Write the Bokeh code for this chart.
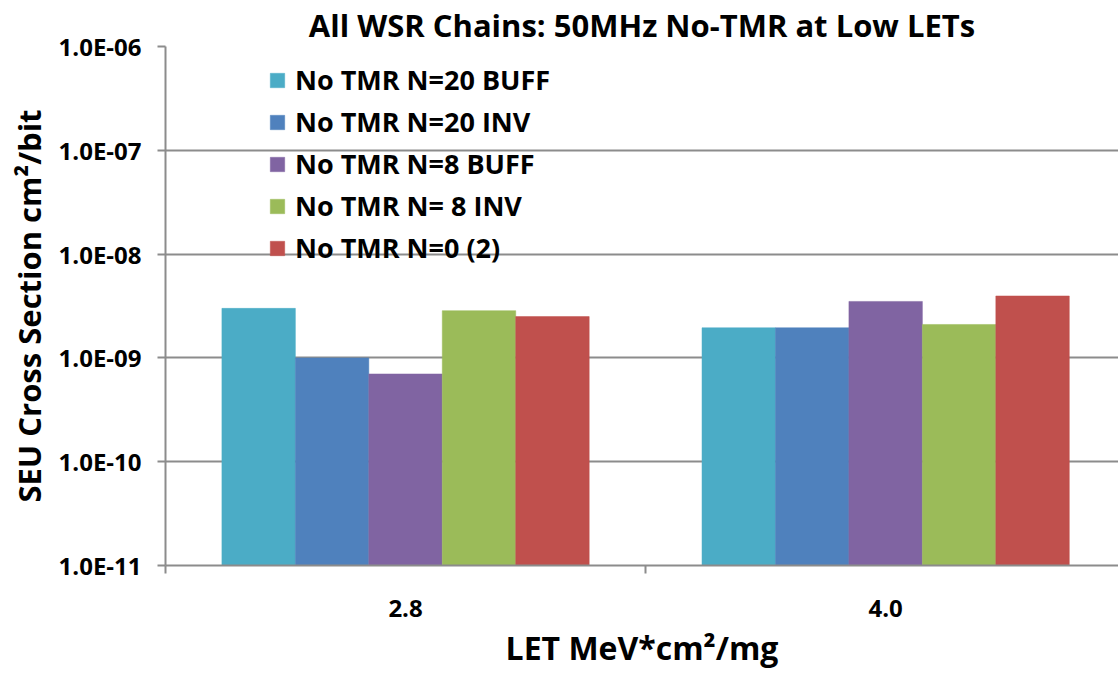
from bokeh.plotting import figure
from bokeh.models import Range1d, FixedTicker, CustomJSTickFormatter, Legend, LegendItem, ColumnDataSource
from bokeh.embed import file_html
from bokeh.resources import INLINE

# ---- data ----
let_labels = ["2.8", "4.0"]
series_names = ["No TMR N=20 BUFF", "No TMR N=20 INV", "No TMR N=8 BUFF",
                "No TMR N= 8 INV", "No TMR N=0 (2)"]
buff20 = [3.0e-9, 1.95e-9]
inv20 = [1.0e-9, 1.95e-9]
buff8 = [7.0e-10, 3.5e-9]
inv8 = [2.85e-9, 2.1e-9]
n0 = [2.5e-9, 3.95e-9]
series_values = [buff20, inv20, buff8, inv8, n0]
colors = ["#4BACC6", "#4F81BD", "#8064A2", "#9BBB59", "#C0504D"]
y_ticks = [1e-11, 1e-10, 1e-9, 1e-8, 1e-7, 1e-6]
y_floor = 1e-11

FONT = "Open Sans"
GRAY = "#8c8c8c"
TXT = "#000000"
bar_w = 0.153

p = figure(width=1118, height=673, y_axis_type="log",
           x_range=Range1d(0, 1.985), y_range=Range1d(1e-11, 1e-6),
           output_backend="svg", toolbar_location=None,
           min_border_left=165, min_border_right=0, min_border_top=45,
           min_border_bottom=108, outline_line_color=None)

p.title.text = "All WSR Chains: 50MHz No-TMR at Low LETs"
p.title.text_font = FONT
p.title.text_font_size = "31px"
p.title.text_font_style = "bold"
p.title.text_color = TXT
p.title.align = "center"
p.title.standoff = 2

items = []
n = len(series_values)
for j, (name, vals, c) in enumerate(zip(series_names, series_values, colors)):
    xs = [i + 0.5 + (j - (n - 1) / 2) * bar_w for i in range(len(vals))]
    src = ColumnDataSource(dict(x=xs, top=vals, bottom=[y_floor] * len(vals)))
    r = p.vbar(x="x", top="top", bottom="bottom", width=bar_w, source=src,
               fill_color=c, line_color=c, line_width=0.5)
    items.append(LegendItem(label=name, renderers=[r]))

legend = Legend(items=items, location=(103, 299), orientation="vertical",
                border_line_color=None, background_fill_alpha=0,
                label_text_font=FONT, label_text_font_size="27px",
                label_text_font_style="bold", label_text_color=TXT,
                glyph_width=18, glyph_height=18,
                label_height=18, spacing=5, padding=0, margin=0,
                label_standoff=9)
p.add_layout(legend)

# y axis
yax = p.yaxis[0]
yax.ticker = FixedTicker(ticks=y_ticks)
yax.formatter = CustomJSTickFormatter(code="""
const e = Math.round(Math.log10(tick));
const a = Math.abs(e);
return "1.0E" + (e < 0 ? "-" : "+") + (a < 10 ? "0" : "") + a;
""")
yax.axis_label = "SEU Cross Section cm\u00b2/bit"
yax.axis_label_text_font = FONT
yax.axis_label_text_font_size = "31px"
yax.axis_label_text_font_style = "bold"
yax.axis_label_text_color = TXT
yax.axis_label_standoff = 6
yax.major_label_text_font = FONT
yax.major_label_text_font_size = "24px"
yax.major_label_text_font_style = "bold"
yax.major_label_text_color = TXT
yax.major_label_standoff = 16
yax.major_tick_out = 8
yax.major_tick_in = 0
yax.major_tick_line_color = GRAY
yax.major_tick_line_width = 2
yax.minor_tick_line_color = None
yax.axis_line_color = GRAY
yax.axis_line_width = 2

# x axis
xax = p.xaxis[0]
xax.ticker = FixedTicker(ticks=[0.5, 1.5], minor_ticks=[0, 1, 2])
xax.formatter = CustomJSTickFormatter(args=dict(labels=let_labels),
                                      code="return labels[Math.floor(tick)];")
xax.axis_label = "LET MeV*cm\u00b2/mg"
xax.axis_label_text_font = FONT
xax.axis_label_text_font_size = "32px"
xax.axis_label_text_font_style = "bold"
xax.axis_label_text_color = TXT
xax.axis_label_standoff = 6
xax.major_label_text_font = FONT
xax.major_label_text_font_size = "24px"
xax.major_label_text_font_style = "bold"
xax.major_label_text_color = TXT
xax.major_label_standoff = 26
xax.major_tick_out = 0
xax.major_tick_in = 0
xax.major_tick_line_color = None
xax.minor_tick_out = 8
xax.minor_tick_in = 0
xax.minor_tick_line_color = GRAY
xax.minor_tick_line_width = 2
xax.axis_line_color = GRAY
xax.axis_line_width = 2

p.xgrid.visible = False
p.ygrid.ticker = FixedTicker(ticks=y_ticks)
p.ygrid.grid_line_color = GRAY
p.ygrid.grid_line_width = 2

open("out.html", "w").write(file_html(p, INLINE))
